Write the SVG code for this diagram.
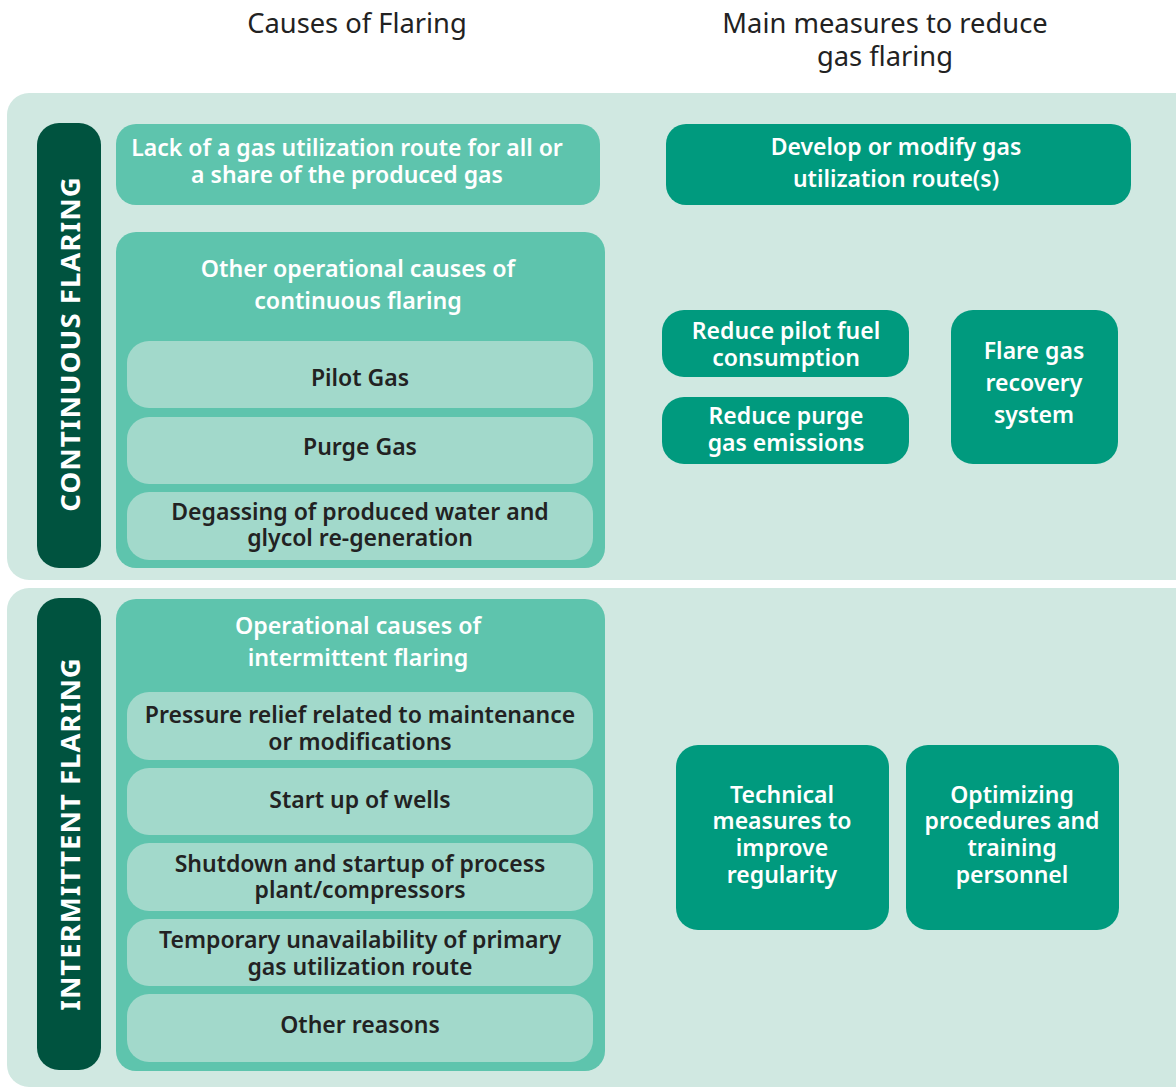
<svg xmlns="http://www.w3.org/2000/svg" width="1176" height="1088" viewBox="0 0 1176 1088">
<style>
.panel{fill:#d0e8e1}
.side{fill:#00533f}
.mid{fill:#5ec4ad}
.light{fill:#a2d9cb}
.dark{fill:#009a7e}
text{font-family:"Noto Sans","Open Sans",sans-serif;text-anchor:middle;dominant-baseline:central}
.title{font-size:27.3px;fill:#222;font-weight:400}
.w{fill:#fff;font-weight:600;font-size:23px}
.wh{fill:#fff;font-weight:600;font-size:23.2px}
.b{fill:#222;font-weight:600;font-size:23px}
.sideT{fill:#fff;font-weight:700;font-size:27.6px;letter-spacing:1px}
</style>
<rect width="1176" height="1088" fill="#fff"/>
<text class="title" x="357" y="22">Causes of Flaring</text>
<text class="title" x="885" y="22">Main measures to reduce<tspan x="885" dy="33">gas flaring</tspan></text>

<g id="panel-continuous"><rect class="panel" x="7" y="93" width="1200" height="487" rx="22"/></g>
<g id="panel-intermittent"><rect class="panel" x="7" y="588" width="1200" height="499" rx="22"/></g>

<g id="side-continuous"><rect class="side" x="37" y="123" width="64" height="445" rx="22"/>
<text class="sideT" transform="translate(69 344) rotate(-90)">CONTINUOUS FLARING</text></g>
<g id="side-intermittent"><rect class="side" x="37" y="598" width="64" height="472" rx="22"/>
<text class="sideT" transform="translate(69 834) rotate(-90)">INTERMITTENT FLARING</text></g>

<g id="lack"><rect class="mid" x="116" y="124" width="484" height="81" rx="20"/>
<text class="w" x="347" y="147">Lack of a gas utilization route for all or<tspan x="347" dy="27">a share of the produced gas</tspan></text></g>

<g id="other-operational"><rect class="mid" x="116" y="232" width="489" height="336" rx="20"/>
<text class="wh" x="358" y="268">Other operational causes of<tspan x="358" dy="32">continuous flaring</tspan></text></g>
<g id="pilot-gas"><rect class="light" x="127" y="341" width="466" height="67" rx="22"/>
<text class="b" x="360" y="377">Pilot Gas</text></g>
<g id="purge-gas"><rect class="light" x="127" y="417" width="466" height="67" rx="22"/>
<text class="b" x="360" y="446">Purge Gas</text></g>
<g id="degassing"><rect class="light" x="127" y="492" width="466" height="68" rx="22"/>
<text class="b" x="360" y="511">Degassing of produced water and<tspan x="360" dy="26">glycol re-generation</tspan></text></g>

<g id="develop"><rect class="dark" x="666" y="124" width="465" height="81" rx="20"/>
<text class="w" x="896" y="146">Develop or modify gas<tspan x="896" dy="32">utilization route(s)</tspan></text></g>
<g id="reduce-pilot"><rect class="dark" x="662" y="310" width="247" height="67" rx="22"/>
<text class="w" x="786" y="330">Reduce pilot fuel<tspan x="786" dy="27">consumption</tspan></text></g>
<g id="reduce-purge"><rect class="dark" x="662" y="397" width="247" height="67" rx="22"/>
<text class="w" x="786" y="415">Reduce purge<tspan x="786" dy="27">gas emissions</tspan></text></g>
<g id="flare-recovery"><rect class="dark" x="951" y="310" width="167" height="154" rx="22"/>
<text class="w" x="1034" y="350">Flare gas<tspan x="1034" dy="32">recovery</tspan><tspan x="1034" dy="32">system</tspan></text></g>

<g id="operational-intermittent"><rect class="mid" x="116" y="599" width="489" height="472" rx="20"/>
<text class="wh" x="358" y="625">Operational causes of<tspan x="358" dy="32">intermittent flaring</tspan></text></g>
<g id="pressure-relief"><rect class="light" x="127" y="692" width="466" height="68" rx="22"/>
<text class="b" x="360" y="714">Pressure relief related to maintenance<tspan x="360" dy="27">or modifications</tspan></text></g>
<g id="startup-wells"><rect class="light" x="127" y="768" width="466" height="67" rx="22"/>
<text class="b" x="360" y="799">Start up of wells</text></g>
<g id="shutdown"><rect class="light" x="127" y="843" width="466" height="68" rx="22"/>
<text class="b" x="360" y="863">Shutdown and startup of process<tspan x="360" dy="26">plant/compressors</tspan></text></g>
<g id="temporary"><rect class="light" x="127" y="919" width="466" height="67" rx="22"/>
<text class="b" x="360" y="939">Temporary unavailability of primary<tspan x="360" dy="27">gas utilization route</tspan></text></g>
<g id="other-reasons"><rect class="light" x="127" y="994" width="466" height="68" rx="22"/>
<text class="b" x="360" y="1024">Other reasons</text></g>

<g id="technical"><rect class="dark" x="676" y="745" width="213" height="185" rx="22"/>
<text class="w" x="782" y="794">Technical<tspan x="782" dy="26">measures to</tspan><tspan x="782" dy="27">improve</tspan><tspan x="782" dy="27">regularity</tspan></text></g>
<g id="optimizing"><rect class="dark" x="906" y="745" width="213" height="185" rx="22"/>
<text class="w" x="1012" y="794">Optimizing<tspan x="1012" dy="26">procedures and</tspan><tspan x="1012" dy="27">training</tspan><tspan x="1012" dy="27">personnel</tspan></text></g>

<g id="connectors"></g>
</svg>
